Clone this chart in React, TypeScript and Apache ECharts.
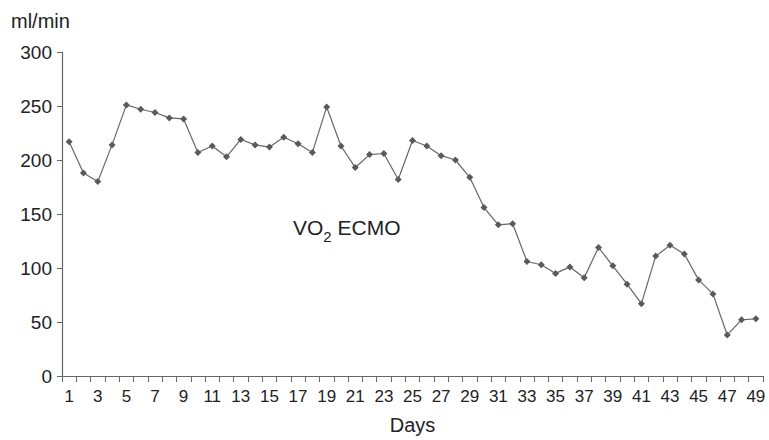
import React, { useEffect, useRef } from "react";
import * as echarts from "echarts";

const days: string[] = Array.from({ length: 49 }, (_, i) => String(i + 1));
const vo2Values: number[] = [
  217, 188, 180, 214, 251, 247, 244, 239, 238, 207,
  213, 203, 219, 214, 212, 221, 215, 207, 249, 213,
  193, 205, 206, 182, 218, 213, 204, 200, 184, 156,
  140, 141, 106, 103, 95, 101, 91, 119, 102, 85,
  67, 111, 121, 113, 89, 76, 38, 52, 53,
];
const yTicks = { min: 0, max: 300, interval: 50 };

const FONT = "'Liberation Sans', Arial, Helvetica, sans-serif";

export default function App() {
  const ref = useRef<HTMLDivElement>(null);
  useEffect(() => {
    if (!ref.current) return;
    const chart = echarts.init(ref.current, null, { renderer: "svg" });
    chart.setOption({
      animation: false,
      backgroundColor: "#ffffff",
      grid: { left: 62, right: 6, top: 52, bottom: 60, containLabel: false },
      xAxis: {
        type: "category",
        data: days,
        boundaryGap: true,
        name: "Days",
        nameLocation: "middle",
        nameGap: 39,
        nameTextStyle: { fontSize: 20, color: "#222", fontFamily: FONT },
        axisLine: { lineStyle: { color: "#666", width: 1.2 } },
        axisTick: { show: true, interval: 0, length: 6, lineStyle: { color: "#666" } },
        axisLabel: { interval: 1, fontSize: 17, color: "#222", fontFamily: FONT, margin: 12 },
        splitLine: { show: false },
      },
      yAxis: {
        type: "value",
        min: yTicks.min,
        max: yTicks.max,
        interval: yTicks.interval,
        axisLine: { show: true, lineStyle: { color: "#666", width: 1.2 } },
        axisTick: { show: true, length: 5, lineStyle: { color: "#666" } },
        axisLabel: { fontSize: 19, color: "#222", fontFamily: FONT, margin: 10 },
        splitLine: { show: false },
      },
      graphic: [
        {
          type: "text",
          left: 11,
          top: 11,
          style: { text: "ml/min", fontSize: 20, fill: "#222", fontFamily: FONT },
        },
        {
          type: "text",
          left: 293,
          top: 217,
          style: {
            text: "{a|VO}{b|2}{a| ECMO}",
            fill: "#222",
            fontFamily: FONT,
            rich: {
              a: { fontSize: 21, fill: "#222", fontFamily: FONT, verticalAlign: "bottom", lineHeight: 24 },
              b: { fontSize: 15, fill: "#222", fontFamily: FONT, verticalAlign: "bottom", lineHeight: 16, padding: [0, 0, -6, 0] },
            },
          },
        },
      ],
      series: [
        {
          type: "line",
          data: vo2Values,
          symbol: "diamond",
          symbolSize: 7,
          itemStyle: { color: "#5a5a5a" },
          lineStyle: { color: "#666", width: 1.2 },
        },
      ],
    });
    return () => chart.dispose();
  }, []);
  return <div ref={ref} style={{ width: 769, height: 440, position: "absolute", left: 0, top: 0 }} />;
}
